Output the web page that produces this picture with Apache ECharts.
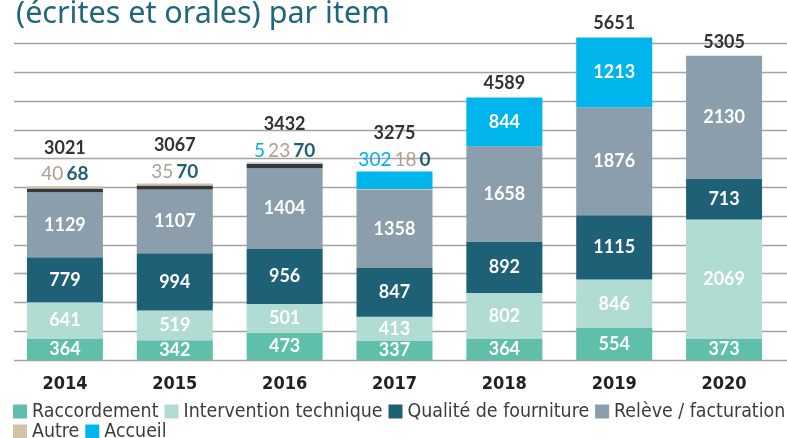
<!DOCTYPE html>
<html>
<head>
<meta charset="utf-8">
<script src="https://cdn.jsdelivr.net/npm/echarts@6/dist/echarts.min.js"></script>
<style>
  html, body { margin: 0; padding: 0; background: #fff; }
  #chart { width: 787px; height: 438px; }
</style>
</head>
<body>
<div id="chart"></div>
<script>
// réclamations (écrites et orales) par item, 2014-2020

const years = ['2014', '2015', '2016', '2017', '2018', '2019', '2020'];
const raccordement = [364, 342, 473, 337, 364, 554, 373];
const intervention = [641, 519, 501, 413, 802, 846, 2069];
const qualite = [779, 994, 956, 847, 892, 1115, 713];
const releve = [1129, 1107, 1404, 1358, 1658, 1876, 2130];
const divers = [68, 70, 70, 0, 0, 0, 0];      // segment sombre, hors légende
const autre = [40, 35, 23, 18, 0, 0, 0];
const accueil = [0, 0, 5, 302, 844, 1213, 0];
const totals = [3021, 3067, 3432, 3275, 4589, 5651, 5305];
const yTicks = [0, 500, 5500]; // min, pas, max de la grille

const NUM_FONT = 'Lato, "Noto Sans", sans-serif';
const NARROW_FONT = '"DejaVu Sans Condensed", Roboto, sans-serif';

function stackBar(name, data, color, showInside) {
  return {
    name: name,
    type: 'bar',
    stack: 'all',
    stackStrategy: 'all',
    clip: false,
    barWidth: 76,
    data: data,
    itemStyle: { color: color },
    label: {
      show: true,
      position: 'inside',
      color: '#fff',
      fontFamily: NUM_FONT,
      fontWeight: 'bold',
      fontSize: 18,
      formatter: p => (showInside(p.value) ? String(p.value) : ''),
    },
  };
}

const legendBase = {
  left: 13,
  width: 820,
  icon: 'rect',
  itemWidth: 14,
  itemHeight: 14,
  itemGap: 6,
  padding: 0,
  textStyle: { color: '#3c3c3c', fontSize: 19.4, fontFamily: NARROW_FONT },
};

const chart = echarts.init(document.getElementById('chart'));
chart.setOption({
  animation: false,
  title: {
    text: '(écrites et orales) par item',
    left: 11,
    top: -6,
    textStyle: { color: '#1f687b', fontSize: 30.5, fontWeight: 'normal', fontFamily: '"Noto Sans", Lato, sans-serif' },
  },
  legend: [
    Object.assign({}, legendBase, {
      top: 402,
      data: ['Raccordement', 'Intervention technique', 'Qualité de fourniture', 'Relève / facturation'],
    }),
    Object.assign({}, legendBase, {
      top: 422,
      data: ['Autre', 'Accueil'],
    }),
  ],
  grid: [
    { left: 10, right: 8, top: 43.5, bottom: 78 },
    { left: 14, right: 0, top: 43.5, bottom: 78 },
  ],
  xAxis: [
    {
      type: 'category',
      gridIndex: 0,
      data: years,
      axisLine: { show: false },
      axisTick: { show: false },
      axisLabel: { color: '#222', fontSize: 18, fontWeight: 'bold', fontFamily: NARROW_FONT, margin: 15 },
    },
    { type: 'value', gridIndex: 1, min: 0, max: 1, show: false },
  ],
  yAxis: [
    { type: 'value', gridIndex: 0, min: yTicks[0], max: yTicks[2], interval: yTicks[1], show: false },
    {
      type: 'value',
      gridIndex: 1,
      min: yTicks[0],
      max: yTicks[2],
      interval: yTicks[1],
      axisLine: { show: false },
      axisTick: { show: false },
      axisLabel: { show: false },
      splitLine: { lineStyle: { color: '#a3a3a3', width: 1.4 } },
    },
  ],
  series: [
    stackBar('Raccordement', raccordement, '#5fbfab', () => true),
    stackBar('Intervention technique', intervention, '#b0dcd3', () => true),
    stackBar('Qualité de fourniture', qualite, '#1e6076', () => true),
    stackBar('Relève / facturation', releve, '#8a9eab', () => true),
    stackBar('Divers', divers, '#33383f', () => false),
    stackBar('Autre', autre, '#d3c2a8', () => false),
    stackBar('Accueil', accueil, '#00b5ec', v => v >= 500),
    {
      name: 'Total',
      type: 'bar',
      stack: 'all',
      stackStrategy: 'all',
      clip: false,
      barWidth: 76,
      data: totals.map(() => 0),
      itemStyle: { color: 'transparent' },
      label: {
        show: true,
        position: 'top',
        distance: 1,
        fontFamily: NUM_FONT,
        formatter: p => {
          const i = p.dataIndex;
          if (!autre[i]) return '{s|' + totals[i] + '}';
          const parts = [];
          if (accueil[i]) parts.push('{a|' + accueil[i] + '}');
          parts.push('{b|' + autre[i] + '}');
          parts.push('{c|' + divers[i] + '}');
          return '{t|' + totals[i] + '}\n' + parts.join(' ');
        },
        rich: {
          s: { color: '#333', fontSize: 18, fontWeight: 'bold', fontFamily: NUM_FONT, lineHeight: 26 },
          t: { color: '#333', fontSize: 18, fontWeight: 'bold', fontFamily: NUM_FONT, lineHeight: 30 },
          a: { color: '#00b0ea', fontSize: 19, fontFamily: NUM_FONT, lineHeight: 22 },
          b: { color: '#ada194', fontSize: 19, fontFamily: NUM_FONT, lineHeight: 22 },
          c: { color: '#1e6076', fontSize: 19, fontWeight: 'bold', fontFamily: NUM_FONT, lineHeight: 22 },
        },
      },
    },
  ],
});
</script>
</body>
</html>
